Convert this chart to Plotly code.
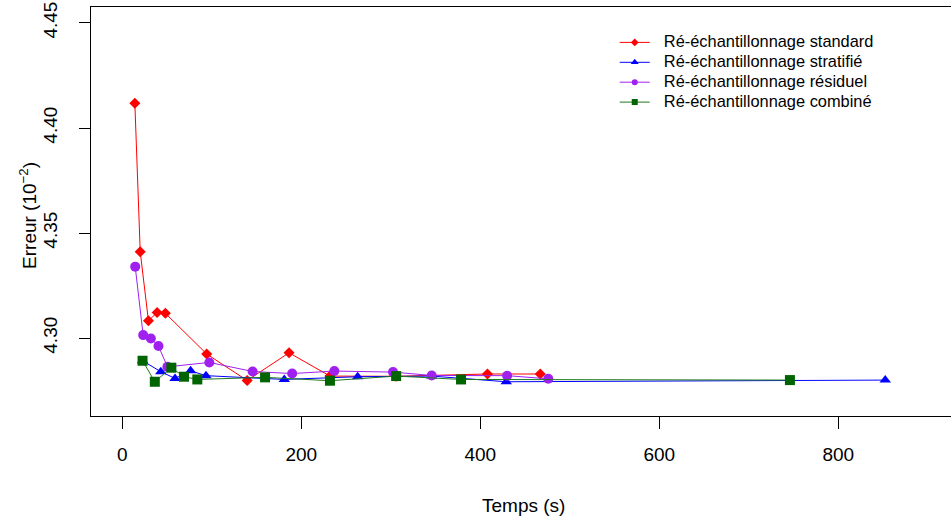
import plotly.graph_objects as go

# ---- data ----
t_standard = [14, 20, 29.2, 38.9, 48.1, 94.3, 139.5, 186.3, 232, 306, 408, 467]
e_standard = [4.4118, 4.3411, 4.3082, 4.3122, 4.3118, 4.2924, 4.2798, 4.2930, 4.2819, 4.2818, 4.2829, 4.2829]

t_stratifie = [22.6, 43, 58.9, 76.3, 93.5, 181, 263, 345.7, 429, 852.5]
e_stratifie = [4.2892, 4.2840, 4.2808, 4.2844, 4.2821, 4.2803, 4.2816, 4.2819, 4.2792, 4.2800]

t_residuel = [14.4, 23.3, 31.9, 40.4, 50.4, 97.2, 145.6, 189.8, 236.9, 302.5, 345.7, 430, 476]
e_residuel = [4.3340, 4.3014, 4.2998, 4.2962, 4.2863, 4.2884, 4.2841, 4.2831, 4.2843, 4.2838, 4.2822, 4.2821, 4.2806]

t_combine = [22.6, 36.3, 54.8, 68.9, 83.8, 159.5, 232, 306, 378.5, 746]
e_combine = [4.2892, 4.2792, 4.2859, 4.2816, 4.2803, 4.2813, 4.2797, 4.2819, 4.2803, 4.2800]

names = ["Ré-échantillonnage standard", "Ré-échantillonnage stratifié",
         "Ré-échantillonnage résiduel", "Ré-échantillonnage combiné"]

x_ticks = [0, 200, 400, 600, 800]
y_ticks = [4.30, 4.35, 4.40, 4.45]
y_ticktext = ["4.30", "4.35", "4.40", "4.45"]

FONT = "Liberation Sans, Arial, sans-serif"

fig = go.Figure()
series = [
    (t_standard, e_standard, names[0], "#FF0000", "#FF0000", "diamond", 8.5, 6),
    (t_stratifie, e_stratifie, names[1], "#0000FF", "#0000FF", "triangle-up", 10, 7),
    (t_residuel, e_residuel, names[2], "#A020F0", "#A020F0", "circle", 10, 6),
    (t_combine, e_combine, names[3], "#1E7A1E", "#006400", "square", 10, 6),
]
for tx, ey, nm, lc, mc, sym, sz, lsz in series:
    fig.add_trace(go.Scatter(
        x=tx, y=ey, mode="lines+markers", name=nm, showlegend=False,
        line=dict(color=lc, width=1),
        marker=dict(color=mc, symbol=sym, size=sz, line=dict(width=0)),
    ))
# legend entries (small symbols, as in the reference legend)
for tx, ey, nm, lc, mc, sym, sz, lsz in series:
    fig.add_trace(go.Scatter(
        x=[None], y=[None], mode="lines+markers",
        name='<span style="font-size:16.4px">\u00a0\u00a0' + nm + '</span>',
        line=dict(color=lc, width=1),
        marker=dict(color=mc, symbol=sym, size=lsz, line=dict(width=0)),
        hoverinfo="skip",
    ))

fig.update_layout(
    width=951, height=522,
    margin=dict(l=91, r=0, t=7, b=106),
    paper_bgcolor="white", plot_bgcolor="white",
    font=dict(family=FONT, size=18, color="black"),
    showlegend=True,
    legend=dict(
        x=0.609, y=0.95, xanchor="left", yanchor="top",
        bgcolor="rgba(0,0,0,0)", borderwidth=0,
        font=dict(family=FONT, size=13, color="black"),
        itemwidth=30, tracegroupgap=0,
    ),
    xaxis=dict(
        range=[-35, 926], tickvals=x_ticks, ticks="outside", ticklen=12,
        tickcolor="black", showline=True, linecolor="black", linewidth=1,
        mirror=True, showgrid=False, zeroline=False,
        tickfont=dict(family=FONT, size=19), ticklabelstandoff=9,
    ),
    yaxis=dict(
        range=[4.2629, 4.4576], tickvals=y_ticks, ticktext=y_ticktext,
        ticks="outside", ticklen=11, tickcolor="black", tickangle=-90,
        showline=True, linecolor="black", linewidth=1, mirror=False,
        showgrid=False, zeroline=False,
        tickfont=dict(family=FONT, size=19), ticklabelstandoff=14,
    ),
    annotations=[
        dict(text="Temps (s)", xref="paper", yref="paper", x=0.503, y=-0.218,
             showarrow=False, xanchor="center", yanchor="middle",
             font=dict(family=FONT, size=19)),
        dict(text="Erreur (10<sup>−2</sup>)", xref="paper", yref="paper",
             x=-0.074, y=0.49, textangle=-90, showarrow=False,
             xanchor="center", yanchor="middle",
             font=dict(family=FONT, size=19)),
    ],
)

fig.write_html(
    "out.html",
    config={"displayModeBar": False},
    post_script="document.body.style.margin='0';document.body.style.overflow='hidden';",
)
